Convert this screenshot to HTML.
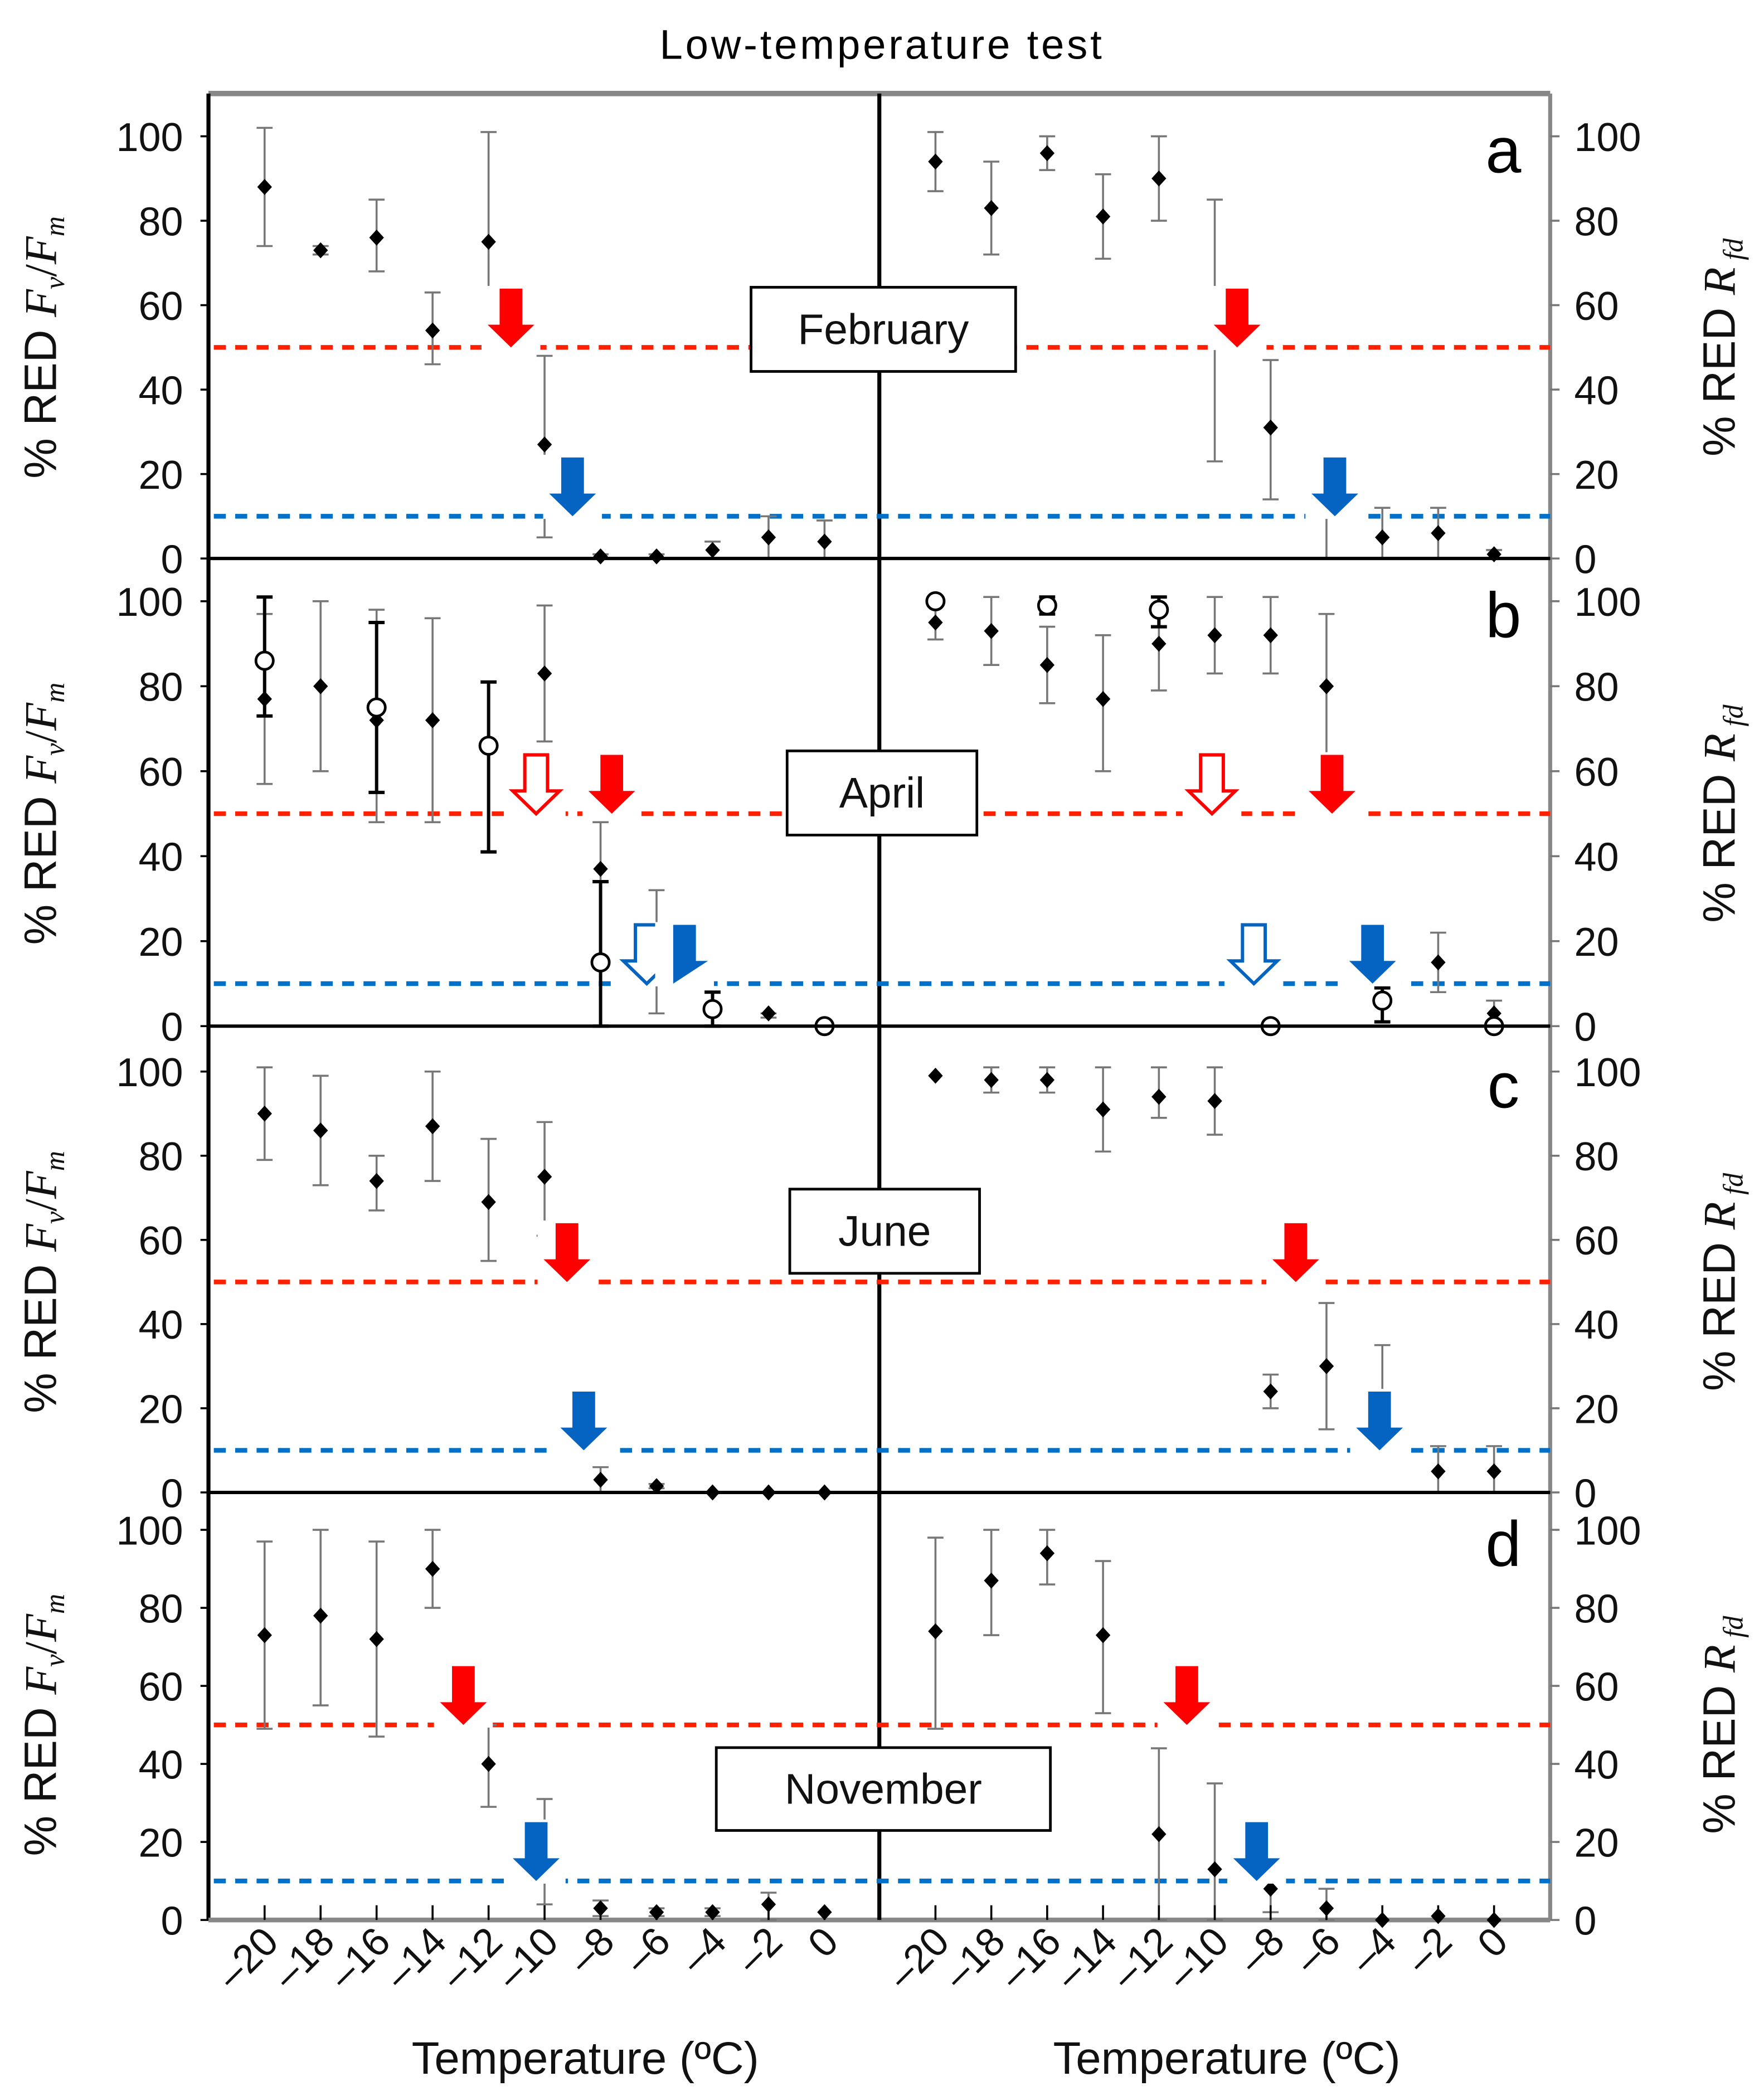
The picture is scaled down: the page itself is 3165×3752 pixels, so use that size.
<!DOCTYPE html>
<html><head><meta charset="utf-8"><style>
html,body{margin:0;padding:0;background:#fff;}
svg{display:block;}
text{font-family:"Liberation Sans",sans-serif;}
</style></head><body>
<svg id="chart" width="3165" height="3752" viewBox="0 0 1320 1565" preserveAspectRatio="none" xmlns="http://www.w3.org/2000/svg">
<text x="660" y="44" text-anchor="middle" font-family="Liberation Serif, serif" font-size="31" letter-spacing="2">Low-temperature test</text>
<g id="plots"></g>
</svg>
<script>
const temps=[-20,-18,-16,-14,-12,-10,-8,-6,-4,-2,0];
// panel a (February)
const aLeftVal=[88,73,76,54,75,27,0.5,0.5,2,5,4];
const aLeftLo=[74,72,68,46,50,5,0,0,0,0,0];
const aLeftHi=[102,74,85,63,101,48,1,1,4,10,9];
const aRightVal=[94,83,96,81,90,null,31,null,5,6,1];
const aRightLo=[87,72,92,71,80,23,14,0,0,0,0];
const aRightHi=[101,94,100,91,100,85,47,10,12,12,2];
// panel b (April) closed
const bLeftVal=[77,80,72,72,null,83,37,null,null,3,0];
const bLeftLo=[57,60,48,48,null,67,0,3,null,2,0];
const bLeftHi=[97,100,98,96,null,99,48,32,null,3,0];
const bLeftOpenVal=[86,null,75,null,66,null,15,null,4,null,0];
const bLeftOpenLo=[73,null,55,null,41,null,0,null,0,null,0];
const bLeftOpenHi=[101,null,95,null,81,null,34,null,8,null,0];
const bRightVal=[95,93,85,77,90,92,92,80,null,15,3];
const bRightLo=[91,85,76,60,79,83,83,64,null,8,0];
const bRightHi=[99,101,94,92,101,101,101,97,null,22,6];
const bRightOpenVal=[100,null,99,null,98,null,0,null,6,null,0];
const bRightOpenLo=[100,null,97,null,94,null,0,null,1,null,0];
const bRightOpenHi=[100,null,101,null,101,null,0,null,9,null,0];
// panel c (June)
const cLeftVal=[90,86,74,87,69,75,3,1.5,0,0,0];
const cLeftLo=[79,73,67,74,55,61,0,1,0,0,0];
const cLeftHi=[101,99,80,100,84,88,6,2,0,0,0];
const cRightVal=[99,98,98,91,94,93,24,30,null,5,5];
const cRightLo=[99,95,95,81,89,85,20,15,10,0,0];
const cRightHi=[99,101,101,101,101,101,28,45,35,11,11];
// panel d (November)
const dLeftVal=[73,78,72,90,40,null,3,2,2,4,2];
const dLeftLo=[49,55,47,80,29,4,1,1,1,0,2];
const dLeftHi=[97,100,97,100,50,31,5,3,3,7,2];
const dRightVal=[74,87,94,73,22,13,8,3,0,1,0];
const dRightLo=[49,73,86,53,0,0,2,0,0,1,0];
const dRightHi=[98,100,100,92,44,35,12,8,0,1,0];
// arrows: temperatures
const aArrows=[[-11.2,'r','f','L'],[-9.0,'b','f','L'],[-9.2,'r','f','R'],[-5.7,'b','f','R']];
const bArrows=[[-10.3,'r','o','L'],[-7.6,'r','f','L'],[-6.35,'b','o','L'],[-5.0,'b','h','L'],[-10.1,'r','o','R'],[-5.8,'r','f','R'],[-8.6,'b','o','R'],[-4.35,'b','f','R']];
const cArrows=[[-9.2,'r','f','L'],[-8.6,'b','f','L'],[-7.1,'r','f','R'],[-4.1,'b','f','R']];
const dArrows=[[-12.9,'r','f','L'],[-10.3,'b','f','L'],[-11.0,'r','f','R'],[-8.5,'b','f','R']];
const yTicks=[0,20,40,60,80,100];
const xTickLabels=['\u201220','\u201218','\u201216','\u201214','\u201212','\u201210','\u20128','\u20126','\u20124','\u20122','0'];

const NS='http://www.w3.org/2000/svg';
const g=document.getElementById('plots');
function el(tag,attrs,parent){const e=document.createElementNS(NS,tag);for(const k in attrs)e.setAttribute(k,attrs[k]);(parent||g).appendChild(e);return e;}
const X0=156,XM=658,X1=1160,TOP=70;
function xL(t){return 198+(t+20)*20.95;}
function xR(t){return 700+(t+20)*20.9;}
const panels=[
 {id:'a',y100:102,y0:418,month:'February',box:[562,215,198,63],L:[aLeftVal,aLeftLo,aLeftHi],R:[aRightVal,aRightLo,aRightHi],arrows:aArrows},
 {id:'b',y100:450,y0:768,month:'April',box:[589,562,142,63],L:[bLeftVal,bLeftLo,bLeftHi],R:[bRightVal,bRightLo,bRightHi],LO:[bLeftOpenVal,bLeftOpenLo,bLeftOpenHi],RO:[bRightOpenVal,bRightOpenLo,bRightOpenHi],arrows:bArrows},
 {id:'c',y100:802,y0:1117,month:'June',box:[591,890,142,63],L:[cLeftVal,cLeftLo,cLeftHi],R:[cRightVal,cRightLo,cRightHi],arrows:cArrows},
 {id:'d',y100:1145,y0:1437,month:'November',box:[536,1308,250,62],L:[dLeftVal,dLeftLo,dLeftHi],R:[dRightVal,dRightLo,dRightHi],arrows:dArrows}
];
// frame first so month boxes cover the divider
el('line',{x1:X0,x2:X1,y1:TOP,y2:TOP,stroke:'#888','stroke-width':4});
el('line',{x1:X0,x2:X0,y1:TOP,y2:1437,stroke:'#000','stroke-width':3});
el('line',{x1:X1,x2:X1,y1:TOP,y2:1437,stroke:'#888','stroke-width':3});
el('line',{x1:X0,x2:X1,y1:1437,y2:1437,stroke:'#888','stroke-width':3.5});
el('line',{x1:XM,x2:XM,y1:TOP,y2:1437,stroke:'#000','stroke-width':3});
function series(p,set,xf,open,name){
 const [v,lo,hi]=set;const y=val=>p.y0-(p.y0-p.y100)*val/100;
 for(let i=0;i<temps.length;i++){
  const x=xf(temps[i]);
  if(lo[i]!=null&&hi[i]!=null&&hi[i]-lo[i]>0.6){
   const col=open?'#000':'#777',w=open?2.5:1.5;
   const eb=el('g',{});
   
   
   el('line',{x1:x,x2:x,y1:y(lo[i]),y2:y(hi[i]),stroke:col,'stroke-width':w},eb);
   el('line',{x1:x-6,x2:x+6,y1:y(lo[i]),y2:y(lo[i]),stroke:col,'stroke-width':w},eb);
   el('line',{x1:x-6,x2:x+6,y1:y(hi[i]),y2:y(hi[i]),stroke:col,'stroke-width':w},eb);
  }
  if(v[i]!=null){
   const yy=y(v[i]);let m;
   if(open)m=el('circle',{cx:x,cy:yy,r:6.5,fill:'#fff',stroke:'#000','stroke-width':2});
   else m=el('path',{d:`M${x},${yy-6}L${x+5.5},${yy}L${x},${yy+6}L${x-5.5},${yy}Z`,fill:'#000'});
   
   
  }
 }
}
function arrow(p,a){
 const [t,c,k,side]=a;const x=side==='L'?xL(t):xR(t);
 const yv=c==='r'?50:10;const tip=p.y0-(p.y0-p.y100)*yv/100;
 const col=c==='r'?'#ff0000':'#0563c1';
 const top=tip-44,hb=tip-17;
 el('rect',{x:x-22,y:top-2,width:44,height:48,fill:'#fff'});
 let d=`M${x-8.5},${top}L${x+8.5},${top}L${x+8.5},${hb}L${x+17.5},${hb}L${x},${tip}L${x-17.5},${hb}L${x-8.5},${hb}Z`;
 if(k==='h')d=`M${x-8.5},${top}L${x+8.5},${top}L${x+8.5},${hb}L${x+17.5},${hb}L${x-8.5},${tip}Z`;
 const ar=el('path',{d:d,fill:k==='o'?'#fff':col,stroke:k==='o'?col:'none','stroke-width':2.5});
 
 
}
panels.forEach(p=>{
 const pg=el('g',{});
 
 
 const y=val=>p.y0-(p.y0-p.y100)*val/100;
 const rl=el('line',{x1:X0+4,x2:X1,y1:y(50),y2:y(50),stroke:'#ff2000','stroke-width':3.5,'stroke-dasharray':'9 7'});
 
 
 const bl=el('line',{x1:X0+4,x2:X1,y1:y(10),y2:y(10),stroke:'#0070c8','stroke-width':3.5,'stroke-dasharray':'9 7'});
 
 
 yTicks.forEach(v=>{
  el('line',{x1:X0-6,x2:X0,y1:y(v),y2:y(v),stroke:'#000','stroke-width':1.5});
  el('line',{x1:X1,x2:X1+7,y1:y(v),y2:y(v),stroke:'#777','stroke-width':1.5});
  const tl=el('text',{x:137,y:y(v)+11,'text-anchor':'end','font-size':30,fill:'#111'});tl.textContent=v;
  
  
  const tr=el('text',{x:1178,y:y(v)+11,'text-anchor':'start','font-size':30,fill:'#111'});tr.textContent=v;
  
  
 });
 series(p,p.L,xL,false,'left');
 series(p,p.R,xR,false,'right');
 if(p.LO)series(p,p.LO,xL,true,'left-open');
 if(p.RO)series(p,p.RO,xR,true,'right-open');
 p.arrows.forEach(a=>arrow(p,a));
 const [bx,by,bw,bh]=p.box;
 const mb=el('rect',{x:bx,y:by,width:bw,height:bh,fill:'#fff',stroke:'#000','stroke-width':2});
 
 
 const mt=el('text',{x:bx+bw/2,y:by+bh/2+11,'text-anchor':'middle','font-size':32,fill:'#111'});mt.textContent=p.month;
 
 
 const lt=el('text',{x:1125,y:p.y100+27,'text-anchor':'middle','font-size':48,fill:'#000'});lt.textContent=p.id;
 
 
 const cy=(p.y0+p.y100)/2;
 const la=el('text',{x:0,y:0,transform:`translate(42,${cy}) rotate(-90)`,'text-anchor':'middle','font-size':34,fill:'#111'});
 la.innerHTML='% RED <tspan font-family="Liberation Serif,serif" font-style="italic">F</tspan><tspan font-family="Liberation Serif,serif" font-style="italic" font-size="21" dy="6">v</tspan><tspan font-family="Liberation Serif,serif" dy="-6">/</tspan><tspan font-family="Liberation Serif,serif" font-style="italic">F</tspan><tspan font-family="Liberation Serif,serif" font-style="italic" font-size="21" dy="6">m</tspan>';
 
 
 const ra=el('text',{x:0,y:0,transform:`translate(1298,${cy}) rotate(-90)`,'text-anchor':'middle','font-size':34,fill:'#111'});
 ra.innerHTML='% RED <tspan font-family="Liberation Serif,serif" font-style="italic">R</tspan><tspan font-family="Liberation Serif,serif" font-style="italic" font-size="21" dy="6"> fd</tspan>';
 
 
 if(p.id!=='d')el('line',{x1:X0,x2:X1,y1:p.y0,y2:p.y0,stroke:'#000','stroke-width':2.5});
});
temps.forEach((t,i)=>{
 [[xL(t),'left'],[xR(t),'right']].forEach(([x,s])=>{
  el('line',{x1:x,x2:x,y1:1426,y2:1437,stroke:'#000','stroke-width':1.5});
  const tx=el('text',{x:0,y:0,transform:`translate(${x+12},${1455}) rotate(-45)`,'text-anchor':'end','font-size':30,fill:'#111'});
  tx.textContent=xTickLabels[i];
  
  
 });
});
const xt1=el('text',{x:438,y:1552,'text-anchor':'middle','font-size':34,fill:'#111'});xt1.textContent='Temperature (ºC)';


const xt2=el('text',{x:918,y:1552,'text-anchor':'middle','font-size':34,fill:'#111'});xt2.textContent='Temperature (ºC)';


</script>
</body></html>
